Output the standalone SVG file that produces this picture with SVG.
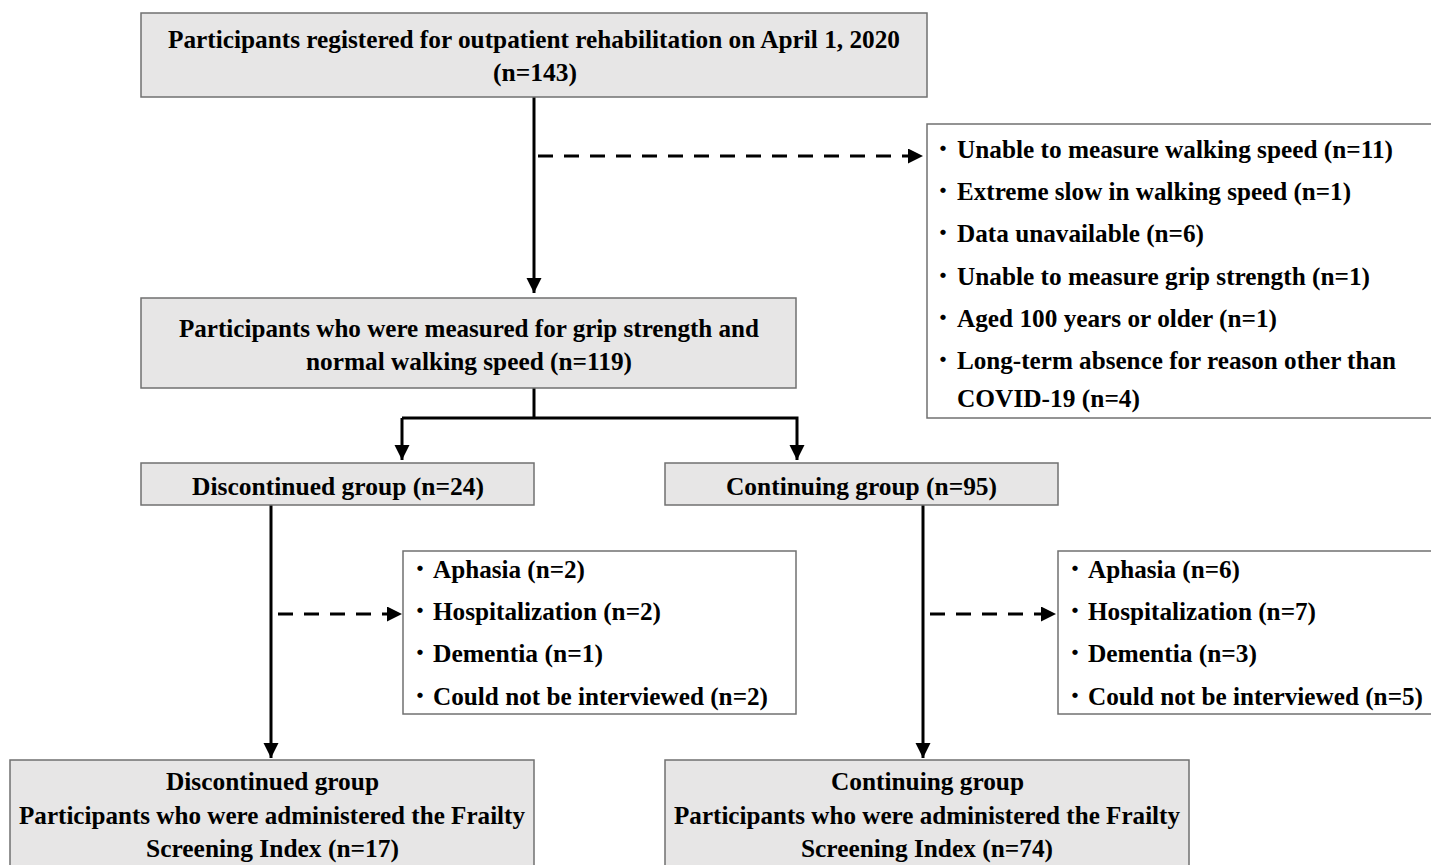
<svg xmlns="http://www.w3.org/2000/svg" width="1431" height="865" viewBox="0 0 1431 865">
<style>
.box{fill:#e7e6e6;stroke:#707070;stroke-width:1.5}
.wbox{fill:#ffffff;stroke:#707070;stroke-width:1.5}
.t{font-family:"Liberation Serif","Times New Roman",serif;font-weight:bold;font-size:25px;fill:#000}
.b{font-family:"Noto Sans CJK JP","Liberation Serif",sans-serif;font-size:25px;fill:#000}
.ln{stroke:#000;stroke-width:3;fill:none}
.dash{stroke:#000;stroke-width:3;fill:none;stroke-dasharray:15 11}
</style>
<defs>
<marker id="ah" markerUnits="userSpaceOnUse" markerWidth="16" markerHeight="16" refX="15" refY="7.5" orient="auto">
<path d="M0,0 L15,7.5 L0,15 z" fill="#000"/>
</marker>
</defs>
<rect width="1431" height="865" fill="#fff"/>

<g id="connectors">
<line class="ln" x1="534" y1="97" x2="534" y2="293" marker-end="url(#ah)"/>
<line class="dash" x1="538" y1="156" x2="923" y2="156" marker-end="url(#ah)"/>
<polyline class="ln" points="534,388 534,418"/>
<polyline class="ln" points="402,418 797,418 797,460" marker-end="url(#ah)"/>
<line class="ln" x1="402" y1="418" x2="402" y2="460" marker-end="url(#ah)"/>
<line class="ln" x1="271" y1="505" x2="271" y2="758" marker-end="url(#ah)"/>
<line class="dash" x1="278" y1="614" x2="402" y2="614" marker-end="url(#ah)"/>
<line class="ln" x1="923" y1="505" x2="923" y2="758" marker-end="url(#ah)"/>
<line class="dash" x1="930" y1="614" x2="1056" y2="614" marker-end="url(#ah)"/>
</g>

<g id="n1">
<rect class="box" x="141" y="13" width="786" height="84"/>
<text class="t" x="168" y="48" textLength="732" lengthAdjust="spacingAndGlyphs">Participants registered for outpatient rehabilitation on April 1, 2020</text>
<text class="t" x="493" y="81" textLength="84" lengthAdjust="spacingAndGlyphs">(n=143)</text>
</g>

<g id="excl1">
<rect class="wbox" x="927" y="124" width="520" height="294"/>
<text class="b" x="930.5" y="158">・</text><text class="t" x="957" y="158" textLength="436" lengthAdjust="spacingAndGlyphs">Unable to measure walking speed (n=11)</text>
<text class="b" x="930.5" y="200">・</text><text class="t" x="957" y="200" textLength="394" lengthAdjust="spacingAndGlyphs">Extreme slow in walking speed (n=1)</text>
<text class="b" x="930.5" y="242">・</text><text class="t" x="957" y="242" textLength="247" lengthAdjust="spacingAndGlyphs">Data unavailable (n=6)</text>
<text class="b" x="930.5" y="285">・</text><text class="t" x="957" y="285" textLength="413" lengthAdjust="spacingAndGlyphs">Unable to measure grip strength (n=1)</text>
<text class="b" x="930.5" y="327">・</text><text class="t" x="957" y="327" textLength="320" lengthAdjust="spacingAndGlyphs">Aged 100 years or older (n=1)</text>
<text class="b" x="930.5" y="369">・</text><text class="t" x="957" y="369" textLength="439" lengthAdjust="spacingAndGlyphs">Long-term absence for reason other than</text>
<text class="t" x="957" y="407" textLength="183" lengthAdjust="spacingAndGlyphs">COVID-19 (n=4)</text>
</g>

<g id="n2">
<rect class="box" x="141" y="298" width="655" height="90"/>
<text class="t" x="179" y="337" textLength="580" lengthAdjust="spacingAndGlyphs">Participants who were measured for grip strength and</text>
<text class="t" x="306" y="370" textLength="326" lengthAdjust="spacingAndGlyphs">normal walking speed (n=119)</text>
</g>

<g id="n3">
<rect class="box" x="141" y="463" width="393" height="42"/>
<text class="t" x="192" y="495" textLength="292" lengthAdjust="spacingAndGlyphs">Discontinued group (n=24)</text>
</g>

<g id="n4">
<rect class="box" x="665" y="463" width="393" height="42"/>
<text class="t" x="726" y="495" textLength="271" lengthAdjust="spacingAndGlyphs">Continuing group (n=95)</text>
</g>

<g id="excl2">
<rect class="wbox" x="403" y="551" width="393" height="163"/>
<text class="b" x="407.5" y="578">・</text><text class="t" x="433" y="578" textLength="152" lengthAdjust="spacingAndGlyphs">Aphasia (n=2)</text>
<text class="b" x="407.5" y="620">・</text><text class="t" x="433" y="620" textLength="228" lengthAdjust="spacingAndGlyphs">Hospitalization (n=2)</text>
<text class="b" x="407.5" y="662">・</text><text class="t" x="433" y="662" textLength="170" lengthAdjust="spacingAndGlyphs">Dementia (n=1)</text>
<text class="b" x="407.5" y="705">・</text><text class="t" x="433" y="705" textLength="335" lengthAdjust="spacingAndGlyphs">Could not be interviewed (n=2)</text>
</g>

<g id="excl3">
<rect class="wbox" x="1058" y="551" width="390" height="163"/>
<text class="b" x="1062.5" y="578">・</text><text class="t" x="1088" y="578" textLength="152" lengthAdjust="spacingAndGlyphs">Aphasia (n=6)</text>
<text class="b" x="1062.5" y="620">・</text><text class="t" x="1088" y="620" textLength="228" lengthAdjust="spacingAndGlyphs">Hospitalization (n=7)</text>
<text class="b" x="1062.5" y="662">・</text><text class="t" x="1088" y="662" textLength="169" lengthAdjust="spacingAndGlyphs">Dementia (n=3)</text>
<text class="b" x="1062.5" y="705">・</text><text class="t" x="1088" y="705" textLength="335" lengthAdjust="spacingAndGlyphs">Could not be interviewed (n=5)</text>
</g>

<g id="n5">
<rect class="box" x="10" y="760" width="524" height="120"/>
<text class="t" x="166" y="790" textLength="213" lengthAdjust="spacingAndGlyphs">Discontinued group</text>
<text class="t" x="19" y="824" textLength="506" lengthAdjust="spacingAndGlyphs">Participants who were administered the Frailty</text>
<text class="t" x="146" y="857" textLength="253" lengthAdjust="spacingAndGlyphs">Screening Index (n=17)</text>
</g>

<g id="n6">
<rect class="box" x="665" y="760" width="524" height="120"/>
<text class="t" x="831" y="790" textLength="193" lengthAdjust="spacingAndGlyphs">Continuing group</text>
<text class="t" x="674" y="824" textLength="506" lengthAdjust="spacingAndGlyphs">Participants who were administered the Frailty</text>
<text class="t" x="801" y="857" textLength="252" lengthAdjust="spacingAndGlyphs">Screening Index (n=74)</text>
</g>
</svg>
